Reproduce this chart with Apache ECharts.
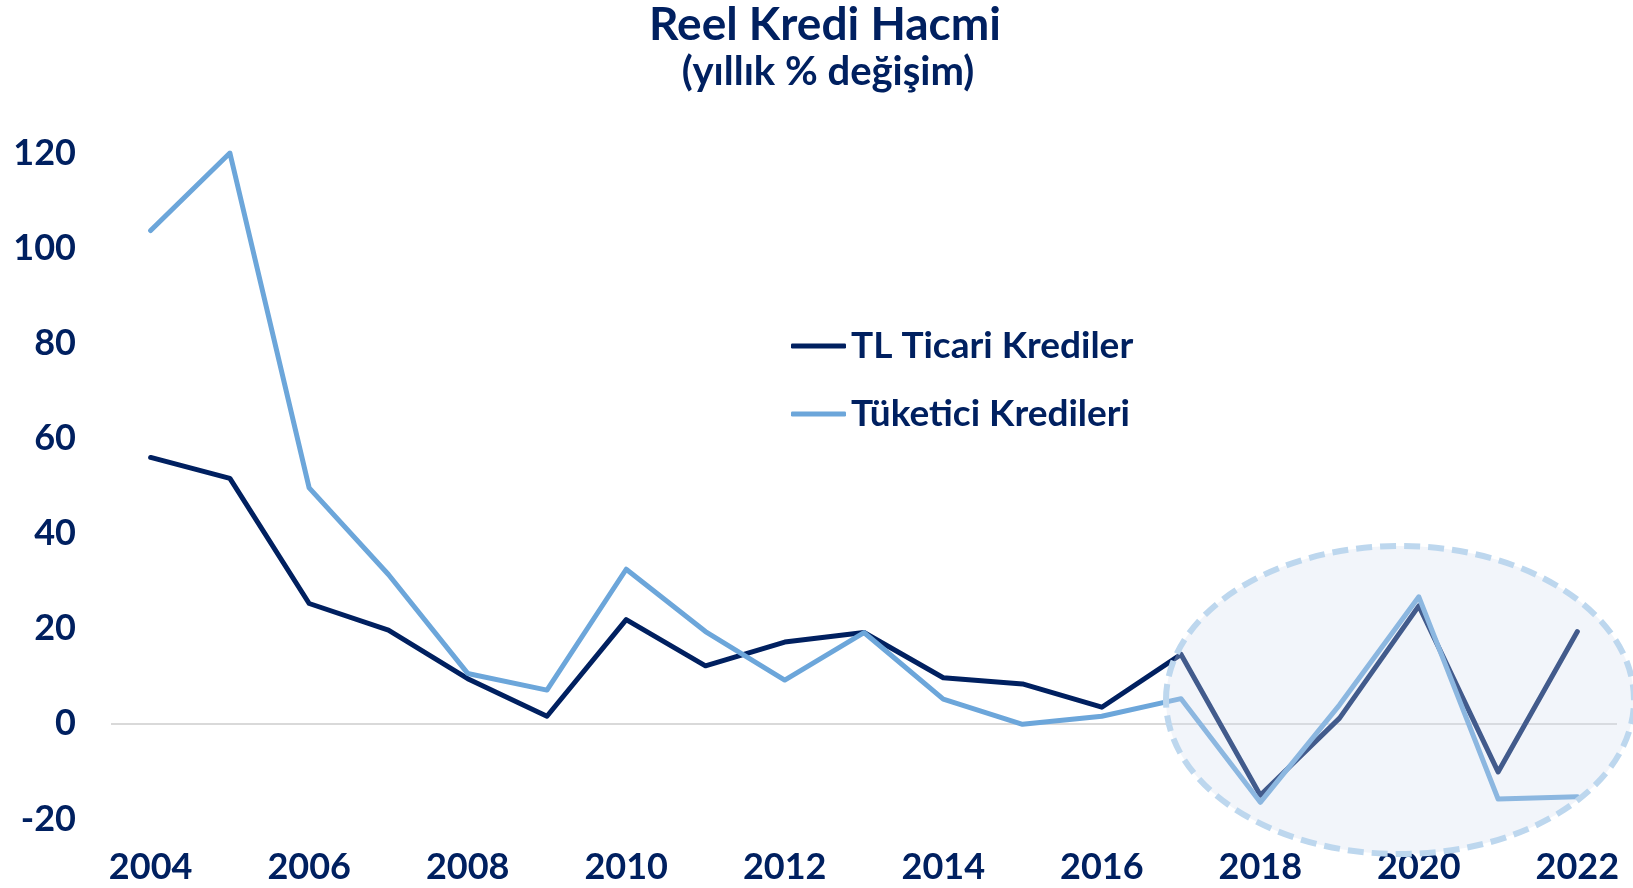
<!DOCTYPE html>
<html>
<head>
<meta charset="utf-8">
<script src="https://cdn.jsdelivr.net/npm/echarts@6/dist/echarts.min.js"></script>
<style>
html,body{margin:0;padding:0;background:#fff;}
#chart{width:1633px;height:888px;}
</style>
</head>
<body>
<div id="chart"></div>
<script>
const years = ['2004','2005','2006','2007','2008','2009','2010','2011','2012','2013','2014','2015','2016','2017','2018','2019','2020','2021','2022'];
const ticariKrediler = [56.0, 51.6, 25.3, 19.7, 9.5, 1.6, 21.9, 12.2, 17.2, 19.2, 9.7, 8.4, 3.5, 14.6, -15.0, 1.2, 24.8, -10.1, 19.4];
const tuketiciKredileri = [103.7, 120.0, 49.6, 31.4, 10.6, 7.1, 32.5, 19.4, 9.2, 19.2, 5.2, -0.1, 1.6, 5.3, -16.5, 4.0, 26.7, -15.8, -15.3];
const seriesNames = ['TL Ticari Krediler', 'Tüketici Kredileri'];
const titleText = 'Reel Kredi Hacmi';
const subtitleText = '(yıllık % değişim)';

const navy = '#002060';
const lightBlue = '#6CA6DA';
const font = 'Lato';

const chart = echarts.init(document.getElementById('chart'));
chart.setOption({
  animation: false,
  backgroundColor: '#ffffff',
  title: [
    { text: titleText, left: 820, top: -3, textAlign: 'center',
      textStyle: { fontFamily: font, fontWeight: 'bold', fontSize: 46, color: navy } },
    { text: subtitleText, left: 823, top: 47, textAlign: 'center',
      textStyle: { fontFamily: font, fontWeight: 'bold', fontSize: 40, color: navy } }
  ],
  grid: { left: 111, right: 16, top: 153, bottom: 69, containLabel: false },
  legend: {
    orient: 'vertical', left: 786, top: 320,
    icon: 'roundRect', itemWidth: 55, itemHeight: 5, itemGap: 26,
    textStyle: { fontFamily: font, fontWeight: 'bold', fontSize: 37, color: navy, lineHeight: 42 },
    data: seriesNames
  },
  xAxis: {
    type: 'category', data: years, boundaryGap: true,
    axisLine: { show: false, onZero: false }, axisTick: { show: false },
    axisLabel: { interval: 1, margin: 30, fontFamily: font, fontWeight: 'bold', fontSize: 36, color: navy }
  },
  yAxis: {
    type: 'value', min: -20, max: 120, interval: 20,
    axisLine: { show: false }, axisTick: { show: false },
    axisLabel: { margin: 35, fontFamily: font, fontWeight: 'bold', fontSize: 36, color: navy },
    splitLine: { show: true, lineStyle: { width: 2, color: ['rgba(0,0,0,0)', '#D9D9D9', 'rgba(0,0,0,0)', 'rgba(0,0,0,0)', 'rgba(0,0,0,0)', 'rgba(0,0,0,0)', 'rgba(0,0,0,0)', 'rgba(0,0,0,0)'] } }
  },
  series: [
    { name: seriesNames[0], type: 'line', data: ticariKrediler, symbol: 'none',
      lineStyle: { width: 5, color: navy, cap: 'round', join: 'round' }, itemStyle: { color: navy }, z: 2 },
    { name: seriesNames[1], type: 'line', data: tuketiciKredileri, symbol: 'none',
      lineStyle: { width: 5, color: lightBlue, cap: 'round', join: 'round' }, itemStyle: { color: lightBlue }, z: 3 }
  ],
  graphic: [
    { type: 'ellipse', z: 100, silent: true,
      shape: { cx: 1400, cy: 700, rx: 234, ry: 154 },
      style: { fill: 'rgba(212,222,240,0.31)', stroke: '#BDD7EE', lineWidth: 6, lineDash: [16, 8] } }
  ]
});
</script>
</body>
</html>
